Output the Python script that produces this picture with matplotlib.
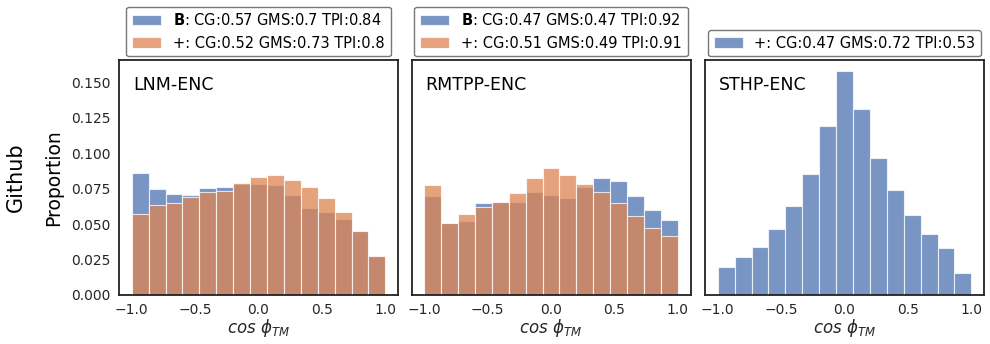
import numpy as np
import matplotlib
matplotlib.use("Agg")
import matplotlib.pyplot as plt

# ---- data (proportions per bin, 15 bins over [-1, 1]) ----
bin_edges = np.linspace(-1, 1, 16)
SCALE = 4270.0

lnm_B = np.array([368, 318, 305, 300, 321, 325, 334, 333, 331, 300, 261, 251, 230, 191, 118]) / SCALE
lnm_plus = np.array([243, 270, 276, 295, 310, 314, 338, 355, 361, 347, 326, 292, 249, 191, 118]) / SCALE
rmtpp_B = np.array([298, 216, 223, 278, 280, 280, 309, 301, 293, 326, 353, 344, 298, 257, 226]) / SCALE
rmtpp_plus = np.array([331, 216, 243, 266, 280, 307, 351, 381, 361, 335, 311, 278, 238, 202, 178]) / SCALE
sthp_plus = np.array([85, 115, 145, 197, 268, 363, 507, 673, 560, 412, 315, 242, 183, 140, 66]) / SCALE

panel_titles = ["LNM-ENC", "RMTPP-ENC", "STHP-ENC"]
legend_lnm = [r"$\mathbf{B}$: CG:0.57 GMS:0.7 TPI:0.84", "+: CG:0.52 GMS:0.73 TPI:0.8"]
legend_rmtpp = [r"$\mathbf{B}$: CG:0.47 GMS:0.47 TPI:0.92", "+: CG:0.51 GMS:0.49 TPI:0.91"]
legend_sthp = ["+: CG:0.47 GMS:0.72 TPI:0.53"]
yticks = [0.0, 0.025, 0.05, 0.075, 0.1, 0.125, 0.15]
ytick_labels = ["0.000", "0.025", "0.050", "0.075", "0.100", "0.125", "0.150"]
xticks = [-1.0, -0.5, 0.0, 0.5, 1.0]

BLUE = "#4C72B0"
ORANGE = "#DD8452"

fig = plt.figure(figsize=(9.9, 3.44), dpi=100)
W, H = 990.0, 344.0
top_px, bot_px = 60, 295
lefts = [119, 411.5, 705]
width_px = 279
axes = []
for i, l in enumerate(lefts):
    ax = fig.add_axes([l / W, (H - bot_px) / H, width_px / W, (bot_px - top_px) / H],
                      sharey=axes[0] if axes else None)
    axes.append(ax)

series = [
    [(lnm_B, BLUE), (lnm_plus, ORANGE)],
    [(rmtpp_B, BLUE), (rmtpp_plus, ORANGE)],
    [(sthp_plus, BLUE)],
]
legends = [legend_lnm, legend_rmtpp, legend_sthp]

widths = np.diff(bin_edges)
for ax, ser, labs, title in zip(axes, series, legends, panel_titles):
    for (vals, col), lab in zip(ser, labs):
        ax.bar(bin_edges[:-1], vals, width=widths, align="edge", color=col,
               alpha=0.75, edgecolor="white", linewidth=0.8, label=lab)
    ax.set_xlim(-1.1, 1.1)
    ax.set_xticks(xticks)
    ax.tick_params(length=0, labelsize=10, colors="#262626", pad=6)
    for s in ax.spines.values():
        s.set_color("#222222")
        s.set_linewidth(1.3)
    ax.set_xlabel(r"$cos\ \phi_{TM}$", fontsize=12, color="#262626", labelpad=0)
    ax.text(0.05, 0.93, title, transform=ax.transAxes, fontsize=12.5, va="top", ha="left")
    leg = ax.legend(loc="lower center", bbox_to_anchor=(0.5, 1.015), fontsize=10.5,
                    frameon=True, handlelength=2.0, borderaxespad=0, fancybox=True,
                    edgecolor="#555555", borderpad=0.4, labelspacing=0.5)
    leg.get_frame().set_linewidth(1.0)

axes[0].set_ylim(0, 0.1655)
axes[0].set_yticks(yticks)
axes[0].set_yticklabels(ytick_labels)
for ax in axes[1:]:
    ax.tick_params(labelleft=False)
axes[0].set_ylabel("Proportion", fontsize=13.5, labelpad=6)
fig.text(16 / W, (H - 177) / H, "Github",
         rotation=90, fontsize=15, va="center", ha="center")

fig.savefig("out.png", dpi=100)
